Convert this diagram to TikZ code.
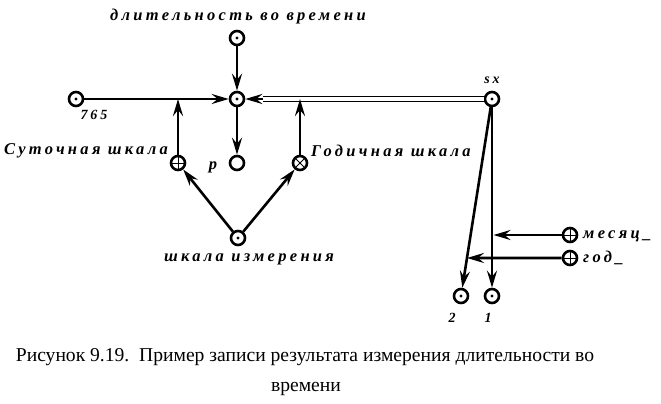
\documentclass[tikz,border=0pt]{standalone}
\usepackage{fontspec}
\setmainfont{Liberation Serif}
\newfontfamily\lblfont[LetterSpace=20]{Liberation Serif}
\usetikzlibrary{arrows.meta}

\begin{document}
\begin{tikzpicture}[x=1pt, y=-1pt, > = {Stealth[length=17pt,width=10pt,inset=6pt]},
  link/.style = {line width=2.6pt, ->},
  dbl/.style = {double, double distance=4pt, line width=1pt},
  pt/.style = {circle, draw, line width=2.6pt, minimum size=14pt, inner sep=0pt, fill=white},
  dotpt/.style = {pt, path picture={\fill[black] (path picture bounding box.center) circle (1.7pt);}},
  pluspt/.style = {pt, path picture={\draw[line width=0.8pt] (path picture bounding box.north) -- (path picture bounding box.south) (path picture bounding box.west) -- (path picture bounding box.east);}},
  crosspt/.style = {pt, path picture={\draw[line width=0.8pt] (path picture bounding box.north west) -- (path picture bounding box.south east) (path picture bounding box.south west) -- (path picture bounding box.north east);}},
  lbl/.style = {font=\lblfont\bfseries\itshape\fontsize{16.5}{18}\selectfont, inner sep=0pt},
  numlbl/.style = {lbl, font=\lblfont\bfseries\itshape\fontsize{14}{16}\selectfont},
  caption/.style = {font=\fontsize{19.6}{24}\selectfont, inner sep=0pt, anchor=base}]

    \useasboundingbox (0,0) rectangle (661,404);

    % points
    \node[dotpt] (top) at (237,38) {};
    \node[dotpt] (c) at (237,99) {};
    \node[dotpt] (n765) at (76,99) {};
    \node[dotpt] (sx) at (492,99) {};
    \node[pt] (p) at (237,163) {};
    \node[pluspt] (sut) at (178,163) {};
    \node[crosspt] (god) at (300,163) {};
    \node[dotpt] (scale) at (238,238) {};
    \node[pluspt] (mes) at (570,235) {};
    \node[pluspt] (year) at (570,258) {};
    \node[dotpt] (two) at (461,296) {};
    \node[dotpt] (one) at (492,296) {};

    % labels
    \node[lbl] (toplbl) at (238,17) {длительность во времени};
    \node[numlbl] (lbl765) at (94,115) {765};
    \node[numlbl] (sxlbl) at (492,80) {sx};
    \node[lbl] (plbl) at (213,167) {p};
    \node[lbl, anchor=east] (sutlbl) at (168,151) {Суточная шкала};
    \node[lbl, anchor=west] (godlbl) at (311,151) {Годичная шкала};
    \node[lbl] (scalelbl) at (249,259) {шкала измерения};
    \node[lbl, anchor=west] (meslbl) at (583,236) {месяц\_};
    \node[lbl, anchor=west] (yearlbl) at (583,258) {год\_};
    \node[numlbl] (twolbl) at (452,318) {2};
    \node[numlbl] (onelbl) at (488,318) {1};

    % links
    \draw[link] (top) -- (c);
    \draw[link] (n765) -- (c);
    \draw[dbl] (sx) -- ([xshift=18pt]c.east) coordinate (dblend);
    \draw[link] (dblend) -- (c);
    \draw[link] (c) -- (p);
    \draw[link] (sut) -- (sut |- n765);
    \draw[link] (god) -- (god |- sx);
    \draw[link] (scale) -- (sut);
    \draw[link] (scale) -- (god);
    \draw[link] (sx) -- (one);
    \draw[link] (sx) -- (two);
    \path (sx.center) -- (two.center) coordinate[pos=0.807] (hit);
    \draw[link, shorten >=1.5pt] (mes) -- (mes -| one);
    \draw[link] (year) -- (hit);

    % caption
    \node[caption] (cap) at (305,361) {Рисунок 9.19.\ \ Пример записи результата измерения длительности во};
    \node[caption] (cap2) at (306,391) {времени};

\end{tikzpicture}
\end{document}
